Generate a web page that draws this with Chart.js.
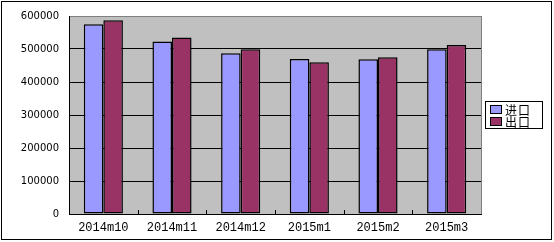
<!DOCTYPE html>
<html>
<head>
<meta charset="utf-8">
<script src="https://cdn.jsdelivr.net/npm/chart.js@4"></script>
<style>
  html, body { margin: 0; padding: 0; background: #fff; }
  #wrap { width: 554px; height: 242px; }
</style>
</head>
<body>
<div id="wrap"><canvas id="c" width="554" height="242"></canvas></div>
<script>
// ── DATA ──
const months  = ['2014m10', '2014m11', '2014m12', '2015m1', '2015m2', '2015m3'];
const imports = [575000, 523000, 487000, 470000, 469000, 499000];
const exports = [587000, 535000, 499000, 460000, 475000, 512000];
const yTicks  = [0, 100000, 200000, 300000, 400000, 500000, 600000];

const seriesNames  = ['进口', '出口'];
const seriesColors = ['#9999FF', '#993366'];

// ── PLUGIN: frame, plot background, inner ticks, legend ──
const excelLook = {
  id: 'excelLook',
  beforeDraw(chart) {
    const { ctx, chartArea: a } = chart;
    ctx.save();
    ctx.fillStyle = '#fff';
    ctx.fillRect(0, 0, chart.width, chart.height);
    ctx.strokeStyle = '#000';
    ctx.lineWidth = 1;
    ctx.strokeRect(1.5, 1.5, 550, 238);
    ctx.fillStyle = '#C0C0C0';
    ctx.fillRect(a.left, a.top, a.right - a.left, a.bottom - a.top);
    ctx.restore();
  },
  afterDraw(chart) {
    const { ctx, chartArea: a } = chart;
    const xs = chart.scales.x;
    ctx.save();
    // right edge of plot
    ctx.strokeStyle = '#808080';
    ctx.beginPath();
    ctx.moveTo(Math.round(a.right) + 0.5, a.top);
    ctx.lineTo(Math.round(a.right) + 0.5, a.bottom);
    ctx.stroke();
    // inner category ticks
    ctx.strokeStyle = '#000';
    for (let i = 0; i < months.length - 1; i++) {
      const x = Math.round((xs.getPixelForValue(i) + xs.getPixelForValue(i + 1)) / 2) + 0.5;
      ctx.beginPath();
      ctx.moveTo(x, a.bottom);
      ctx.lineTo(x, a.bottom - 4);
      ctx.stroke();
    }
    // legend
    const lx = 485, ly = 101, lw = 57, lh = 27;
    ctx.fillStyle = '#fff';
    ctx.fillRect(lx, ly, lw, lh);
    ctx.strokeStyle = '#000';
    ctx.strokeRect(lx + 0.5, ly + 0.5, lw, lh);
    ctx.font = '12px "Noto Sans CJK SC"';
    ctx.letterSpacing = '1px';
    ctx.textBaseline = 'middle';
    chart.data.datasets.forEach((ds, i) => {
      const y = ly + 8 + i * 12;
      ctx.fillStyle = ds.backgroundColor;
      ctx.fillRect(lx + 5, y - 4, 12, 9);
      ctx.strokeStyle = '#000';
      ctx.strokeRect(lx + 5.5, y - 3.5, 11, 8);
      ctx.fillStyle = '#000';
      ctx.fillText(ds.label, lx + 20, y + 1);
    });
    ctx.restore();
  }
};

new Chart(document.getElementById('c'), {
  type: 'bar',
  data: {
    labels: months,
    datasets: [
      { label: seriesNames[0], data: imports, backgroundColor: seriesColors[0], borderColor: '#000' },
      { label: seriesNames[1], data: exports, backgroundColor: seriesColors[1], borderColor: '#000' },
    ]
  },
  options: {
    responsive: false,
    animation: false,
    devicePixelRatio: 1,
    layout: { padding: { left: 0, right: 73, top: 16, bottom: 0 } },
    datasets: {
      bar: {
        borderWidth: 1.5, borderSkipped: false,
        categoryPercentage: 0.57, barPercentage: 1.0
      }
    },
    plugins: { legend: { display: false }, tooltip: { enabled: false } },
    scales: {
      x: {
        grid: { display: false, drawTicks: false },
        border: { color: '#000', width: 1 },
        ticks: { color: '#000', padding: 7, font: { family: '"Liberation Mono"', size: 12 } },
        afterFit(s) { s.height = 28; }
      },
      y: {
        min: 0, max: 600000,
        afterBuildTicks(s) { s.ticks = yTicks.map(v => ({ value: v })); },
        grid: {
          drawTicks: false,
          color: c => c.tick && c.tick.value === 600000 ? '#808080' : '#000'
        },
        border: { color: '#000', width: 1 },
        ticks: {
          color: '#000', padding: 10,
          font: { family: '"DejaVu Sans"', size: 10 },
          callback: v => String(v)
        },
        afterFit(s) { s.width = 69; }
      }
    }
  },
  plugins: [excelLook]
});
</script>
</body>
</html>
